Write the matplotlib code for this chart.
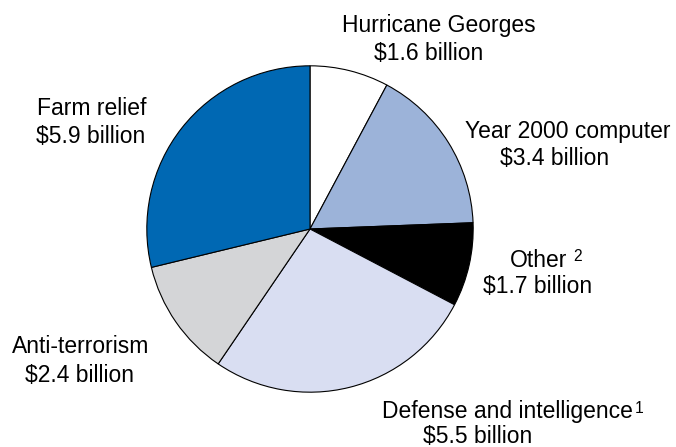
import matplotlib
matplotlib.use("Agg")
import matplotlib.pyplot as plt

categories = ["Hurricane Georges", "Year 2000 computer", "Other", "Defense and intelligence",
              "Anti-terrorism", "Farm relief"]
values = [1.6, 3.4, 1.7, 5.5, 2.4, 5.9]
value_labels = ["$1.6 billion", "$3.4 billion", "$1.7 billion", "$5.5 billion",
                "$2.4 billion", "$5.9 billion"]
footnotes = ["", "", "2", "1", "", ""]
colors = ["#ffffff", "#9cb3d9", "#000000", "#d9def2", "#d4d5d7", "#0068b3"]

W, H = 676, 447
fig = plt.figure(figsize=(W / 100, H / 100), dpi=100)
cx, cy, r = 310, 229, 164
ax = fig.add_axes([(cx - r) / W, (H - cy - r) / H, 2 * r / W, 2 * r / H])
ax.pie(values, colors=colors, startangle=90, counterclock=False,
       wedgeprops=dict(edgecolor="black", linewidth=0.8))
ax.set_xlim(-1.005, 1.005)
ax.set_ylim(-1.005, 1.005)
ax.axis("off")

fs = 16.5
font = "Liberation Sans"
# (line1 left x, baseline y, line2 left x, baseline y, superscript gap px, raise px)
pos = [
    (342, 32, 374, 60, None, None),
    (465, 138, 500, 165, None, None),
    (510, 267, 483, 293, 6, 6),
    (382, 418, 423, 443, 1.5, 5),
]
pos += [
    (12, 353, 25, 382, None, None),
    (37, 115, 36, 143, None, None),
]

def fx(x):
    return x / W

def fy(y):
    return 1 - y / H

renderer = fig.canvas.get_renderer()
for cat, vl, fn, p in zip(categories, value_labels, footnotes, pos):
    x1, y1, x2, y2, gap, rise = p
    t = fig.text(fx(x1), fy(y1), cat, ha="left", va="baseline", fontsize=fs, family=font)
    fig.text(fx(x2), fy(y2), vl, ha="left", va="baseline", fontsize=fs, family=font)
    if fn:
        bb = t.get_window_extent(renderer)
        fig.text((bb.x1 + gap) / W, fy(y1 - rise), fn, ha="left", va="baseline",
                 fontsize=fs * 0.68, family=font)

fig.savefig("out.png", dpi=100)
